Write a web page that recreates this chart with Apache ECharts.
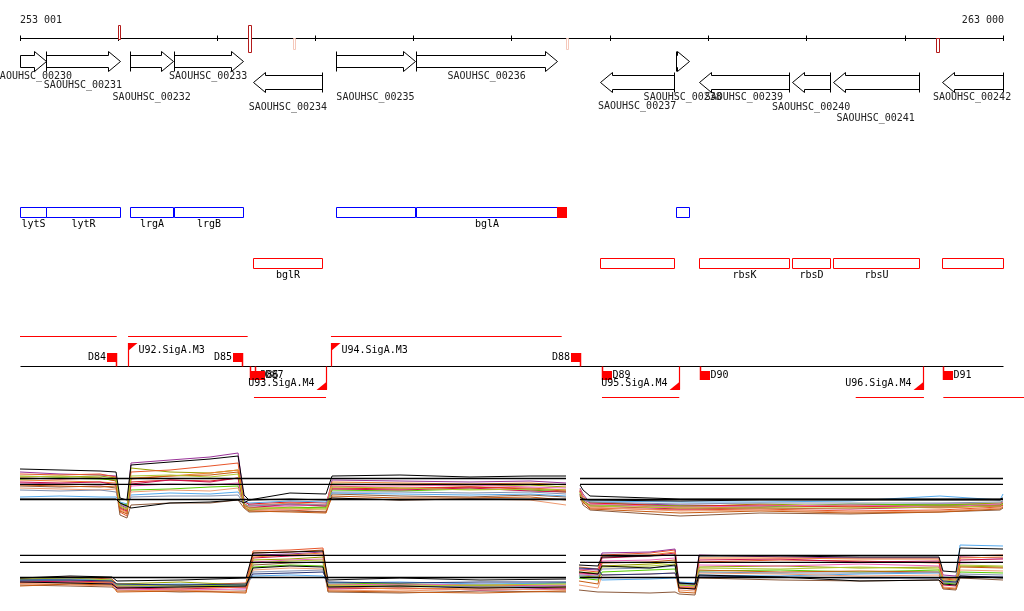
<!DOCTYPE html>
<html><head><meta charset="utf-8">
<script src="https://cdn.jsdelivr.net/npm/echarts@6/dist/echarts.min.js"></script>
<style>html,body{margin:0;padding:0;background:#fff}#c{width:1024px;height:611px}</style>
</head><body><div id="c"></div>
<script>
// ================= DATA =================
const rulerStart = 253001, rulerEnd = 263000;
const rulerTicks = [253001,254000,255000,256000,257000,258000,259000,260000,261000,262000,263000];
const rulerLabels = ['253 001','263 000'];
// [start, end, side, score]
const rulerMarks = [
  [254001,254021,'up',1],
  [255323,255358,'both',1],
  [255778,255798,'down',0.2],
  [258555,258575,'down',0.2],
  [262318,262348,'down',1]
];

const geneIds = ['SAOUHSC_00230','SAOUHSC_00231','SAOUHSC_00232','SAOUHSC_00233','SAOUHSC_00234','SAOUHSC_00235','SAOUHSC_00236','SAOUHSC_00237','SAOUHSC_00238','SAOUHSC_00239','SAOUHSC_00240','SAOUHSC_00241','SAOUHSC_00242'];
const geneStart = [253001,253265,254120,254565,255374,256217,257029,258901,259674,259906,260851,261266,262375];
const geneEnd   = [253265,254018,254562,255266,256078,257017,258467,259655,259811,260821,261245,262144,262995];
const geneStrand= ['+','+','+','+','-','+','+','-','+','-','-','-','-'];
const geneSymbol= ['lytS','lytR','lrgA','lrgB','bglR','','bglA','','','rbsK','rbsD','rbsU',''];
const extraFeatureStart = [258467], extraFeatureEnd = [258562];

const fwdTranscripts = [[253001,253985],[254100,255317],[256164,258511]];
const revTranscripts = [[255381,256114],[258921,259707],[261502,262196],[262393,263214]];
const fwdTermNames = ['D84','D85','D88'];
const fwdTermPos   = [253985,255266,258707];
const revTermNames = ['D86','D87','D89','D90','D91'];
const revTermPos   = [255341,255391,258924,259921,262393];
const fwdPromNames = ['U92.SigA.M3','U94.SigA.M3'];
const fwdPromPos   = [254103,256164];
const revPromNames = ['U93.SigA.M4','U95.SigA.M4','U96.SigA.M4'];
const revPromPos   = [256114,259707,262189];

// expression panel 1 (positions in bp; null = no data)
const exprTopPos = [253001,253408,253815,253978,254018,254089,254130,254527,254934,255219,255280,255330,255747,256114,256175,256866,257578,258189,258555,258620,258697,258728,258799,259715,260528,261444,262359,262970,263000];
const exprTopRefs = [4.15,3.57,2.05];
const exprTopValues = [
 [5.1,5.0,4.9,4.8, 2.2,2.0, 5.5,5.8,6.1,6.4, 2.5,2.0, 2.7,2.6, 4.4,4.5,4.3,4.4,4.4, null, 3.5,3.0, 2.4,2.1,2.1,2.1,2.1,2.1,2.2],
 [2.1,2.1,2.1,2.1, 1.7,1.4, 1.2,1.7,1.8,2.0, 1.7,2.0, 2.1,2.0, 2.2,2.0,2.1,2.1,2.1, null, 2.3,2.1, 2.0,1.9,2.0,2.0,2.0,2.0,2.1],
 [4.8,4.6,4.5,4.4, 1.5,1.2, 5.7,6.0,6.3,6.7, 2.0,1.5, 1.5,1.4, 4.0,3.9,3.8,3.9,3.7, null, 3.2,2.6, 1.7,1.5,1.4,1.5,1.6,1.6,1.7],
 [4.4,4.3,4.4,4.2, 1.3,1.0, 5.2,4.8,4.7,5.0, 1.7,1.2, 1.2,1.3, 3.6,3.5,3.4,3.5,3.3, null, 3.0,2.2, 1.8,1.3,1.6,1.4,1.5,1.7,1.8],
 [4.6,4.5,4.6,4.3, 0.8,0.4, 4.8,5.0,5.4,5.7, 1.5,1.0, 1.0,0.8, 3.4,3.2,3.3,3.2,3.0, null, 2.8,2.0, 1.2,1.0,1.1,0.9,1.0,1.3,1.5],
 [4.0,3.9,3.8,3.7, 1.1,0.8, 4.2,4.4,4.7,5.0, 1.6,1.4, 1.7,1.5, 3.8,3.7,3.6,3.7,3.5, null, 3.1,2.4, 1.6,1.2,1.3,1.4,1.2,1.4,1.6],
 [4.2,4.1,4.2,3.9, 1.6,1.4, 3.8,4.0,3.9,4.2, 1.8,1.6, 1.8,1.7, 3.2,3.1,3.3,3.1,2.9, null, 2.9,2.1, 1.7,1.4,1.5,1.3,1.4,1.5,1.7],
 [3.4,3.3,3.4,3.2, 0.5,0.2, 1.5,1.7,1.7,2.0, 1.2,0.8, 0.9,0.8, 2.6,2.4,2.3,2.5,2.3, null, 2.5,1.5, 1.0,0.4,0.7,0.6,0.8,1.0,1.2],
 [4.1,4.2,4.1,4.0, 1.7,1.5, 3.0,3.1,3.3,3.4, 1.4,1.0, 1.3,1.2, 3.0,2.9,3.1,3.0,2.8, null, 2.7,1.9, 1.5,1.4,1.3,1.6,1.5,1.5,1.7],
 [3.7,3.6,3.5,3.6, 1.4,1.1, 3.4,3.6,3.5,3.7, 1.7,1.3, 1.4,1.5, 3.4,3.4,3.5,3.3,3.2, null, 3.0,2.2, 1.6,1.3,1.4,1.5,1.3,1.6,1.8],
 [2.3,2.4,2.3,2.3, 1.8,1.6, 2.5,2.7,2.6,2.8, 1.9,1.7, 1.9,1.8, 2.7,2.6,2.5,2.6,2.4, null, 2.6,2.1, 1.9,1.8,1.8,1.9,2.4,2.0,2.6],
 [3.8,3.7,3.8,3.5, 1.2,0.9, 3.6,4.0,3.8,4.2, 1.5,1.2, 1.6,1.4, 3.1,3.0,3.2,2.9,2.8, null, 2.9,2.0, 1.4,1.1,1.2,1.1,1.3,1.4,1.5],
 [3.2,3.1,3.0,3.1, 1.0,0.7, 2.8,3.0,2.9,3.2, 1.4,1.1, 1.1,1.0, 2.2,2.0,2.1,2.0,1.5, null, 2.4,1.7, 1.3,0.9,1.0,0.8,0.9,1.2,1.4],
 [3.0,2.9,3.0,2.8, 1.6,1.3, 2.3,2.4,2.4,2.5, 1.6,1.4, 1.6,1.5, 2.8,2.8,2.7,2.8,2.6, null, 2.6,2.0, 1.8,1.6,1.7,1.7,1.7,1.8,1.9],
 [3.5,3.4,3.3,3.4, 0.9,0.6, 4.1,4.4,4.5,4.8, 1.3,0.9, 0.8,0.7, 2.4,2.2,2.2,2.3,2.0, null, 2.6,1.8, 1.1,0.7,0.9,0.7,0.8,1.1,1.3],
 [4.3,4.4,4.2,4.1, 1.4,1.1, 4.4,4.5,4.3,4.6, 1.6,1.2, 1.2,1.1, 3.3,3.2,3.0,3.1,3.0, null, 2.8,1.9, 1.4,1.2,1.2,1.2,1.3,1.4,1.6]
];

// expression panel 2
const exprBottomPos = [253001,253510,253937, 253988,254629,255300, 255371,255747,256083, 256134,256866,257680,258555, 258620, 258687,258880, 258921,259409,259664, 259704,259867, 259908,260732,261545,262349, 262390,262522, 262563,263000];
const exprBottomRefs = [4.47,3.77,2.25];
const exprBottomValues = [
 [2.2,2.4,2.3, 1.9,2.0,2.2, 4.7,4.8,4.9, 2.0,2.2,2.0,2.1, null, 3.5,3.4, 4.3,4.4,4.5, 1.7,1.6, 4.4,4.4,4.3,4.3, 2.9,2.8, 5.2,5.1],
 [1.8,1.7,1.6, 1.2,1.3,1.4, 3.2,3.4,3.3, 1.3,1.4,1.2,1.3, null, 2.8,2.6, 3.4,3.2,3.5, 1.2,1.1, 2.5,2.3,1.9,2.0, 1.6,1.5, 2.4,2.2],
 [2.2,2.3,2.1, 1.6,1.5,1.7, 4.9,5.0,5.2, 1.5,1.6,1.4,1.5, null, 3.0,2.8, 4.5,4.7,5.0, 1.3,1.2, 3.8,4.0,3.9,3.7, 2.1,2.0, 4.4,4.5],
 [1.5,1.4,1.3, 1.0,0.8,0.9, 3.5,3.7,3.8, 0.8,0.7,0.9,0.8, null, 1.0,0.8, 0.8,0.7,0.8, 0.6,0.5, 2.2,2.0,1.9,2.0, 1.1,1.0, 2.2,2.0],
 [2.0,1.9,2.0, 1.4,1.5,1.4, 3.3,3.5,3.4, 1.7,1.6,1.5,1.7, null, 2.2,2.0, 2.8,3.0,3.1, 1.6,1.4, 2.9,3.0,2.8,3.0, 1.7,1.6, 2.8,2.7],
 [2.1,2.0,1.8, 1.6,1.8,1.5, 4.0,4.1,4.3, 1.4,1.3,1.4,1.2, null, 2.4,2.3, 3.4,3.6,3.8, 1.5,1.4, 3.3,3.4,3.2,3.3, 1.8,1.7, 3.4,3.3],
 [1.9,1.8,1.7, 1.3,1.4,1.2, 4.5,4.6,4.8, 1.2,1.4,1.3,1.1, null, 3.1,3.0, 4.7,4.8,5.1, 1.7,1.6, 4.5,4.3,4.2,4.2, 2.5,2.4, 4.3,4.2],
 [1.7,1.8,1.6, 1.1,1.0,1.1, 3.8,4.0,4.1, 1.6,1.5,1.6,1.4, null, 2.6,2.5, 3.9,4.0,4.2, 1.4,1.3, 3.5,3.4,3.6,3.4, 2.0,1.9, 3.7,3.8],
 [2.0,2.1,2.0, 1.5,1.6,1.5, 2.4,2.5,2.4, 1.7,1.8,1.6,1.7, null, 2.3,2.2, 2.0,2.1,2.2, 1.8,1.7, 2.5,2.4,2.6,2.7, 2.3,2.2, 5.5,5.4],
 [1.8,1.9,1.8, 1.2,1.1,1.3, 4.2,4.4,4.5, 1.1,1.2,1.0,1.1, null, 2.7,2.6, 4.2,4.4,4.7, 1.2,1.1, 4.0,4.1,3.8,3.9, 1.5,1.4, 4.0,4.1],
 [1.6,1.5,1.4, 0.9,1.0,0.8, 3.0,3.2,3.1, 1.0,0.9,1.1,1.0, null, 1.5,1.2, 2.5,2.6,2.7, 1.0,0.9, 2.7,2.6,2.4,2.5, 1.3,1.2, 3.0,2.9],
 [1.4,1.6,1.5, 0.8,0.9,0.7, 4.7,4.8,5.0, 0.9,0.8,0.7,0.9, null, 1.9,1.6, 3.7,3.8,4.0, 0.8,0.7, 3.0,2.8,2.9,2.8, 1.2,1.1, 3.3,3.2],
 [1.9,2.0,1.9, 1.4,1.3,1.4, 2.8,2.9,3.0, 1.3,1.4,1.3,1.4, null, 2.5,2.4, 3.1,3.2,3.4, 1.6,1.5, 2.8,2.7,2.7,2.8, 1.8,1.7, 2.6,2.5],
 [2.1,2.2,2.0, 1.5,1.4,1.6, 3.7,3.9,4.0, 1.5,1.4,1.5,1.6, null, 2.8,2.7, 3.3,3.4,3.6, 1.5,1.4, 3.2,3.1,3.3,3.1, 2.0,1.9, 3.5,3.4],
 [1.7,1.7,1.8, 1.3,1.2,1.3, 4.3,4.5,4.7, 1.3,1.1,1.2,1.3, null, 3.3,3.1, 4.4,4.5,4.8, 1.3,1.2, 4.2,4.2,4.1,4.1, 2.2,2.1, 4.2,4.3],
 [2.0,2.0,1.9, 1.6,1.5,1.6, 2.6,2.7,2.8, 1.8,1.7,1.8,1.8, null, 3.2,3.1, 2.5,2.6,2.7, 1.7,1.6, 2.4,2.3,2.2,2.2, 1.9,1.8, 2.4,2.3]
];
const exprGapStart = 258555, exprGapEnd = 258697;

// ================= STYLE / LAYOUT =================
const FONT = '10px "DejaVu Sans Mono", "Liberation Mono", monospace';
const topColors = ['#000000','#000000','#993399','#99a000','#e8552a','#f08030','#e02020','#8b5a3c','#55cc00','#ee66bb','#55aaee','#cc1050','#ee9a70','#8090b0','#c85a10','#b0c830'];
const bottomColors = ['#000000','#000000','#e8552a','#8b5a3c','#55cc00','#99a000','#993399','#ee66bb','#55aaee','#cc1050','#ee9a70','#c85a10','#8090b0','#b0c830','#f08030','#223377'];
const geneLabelY = [76,85,97,76,107,97,76,106,97,97,107,118,97];
const L = {rulerY:38.5, fwdCy:61.5, revCy:82.5, fwdBoxY:207.5, revBoxY:258.5, boxH:10,
           fwdBoxLabelY:224.5, revBoxLabelY:275.5, baseY:366.5, fwdTxY:336.5, revTxY:397.5};

function X(api, v){ return api.coord([v, 0])[0]; }
function cx(v){ return Math.round(v) + 0.5; }
function txt(x, y, s, align, color){
  return {type:'text', style:{x:x, y:y, text:s, font:FONT, fill:color||'#000',
    align:align, verticalAlign:'middle', textAlign:align, textVerticalAlign:'middle'}};
}
function ln(x1,y1,x2,y2,color,w){ return {type:'line', shape:{x1,y1,x2,y2}, style:{stroke:color, lineWidth:w||1}}; }

const RED = '#ff0000', BLUE = '#0000ff';

function custom(name, data, render, z){
  return {type:'custom', name, xAxisIndex:0, yAxisIndex:0, data, renderItem:render, silent:true, clip:false, z:z||5, animation:false};
}

const series = [];

// ruler
series.push(custom('ruler', [[rulerStart, rulerEnd]], function(params, api){
  const x0 = cx(X(api, rulerStart)), x1 = cx(X(api, rulerEnd));
  const kids = [ln(x0, L.rulerY, x1, L.rulerY, '#000', 1)];
  rulerTicks.forEach(t => { const x = cx(X(api, t)); kids.push(ln(x, L.rulerY-3, x, L.rulerY+2.5, '#000', 1)); });
  kids.push(txt(X(api, rulerStart), 20, rulerLabels[0], 'left', '#222'));
  kids.push(txt(X(api, rulerEnd)+1, 20, rulerLabels[1], 'right', '#222'));
  rulerMarks.forEach(m => {
    const a = X(api, m[0]), b = X(api, m[1]);
    let y0, y1;
    if (m[2] === 'up') { y0 = 25; y1 = 39; }
    else if (m[2] === 'both') { y0 = 25; y1 = 52; }
    else { y0 = 38; y1 = m[3] >= 0.5 ? 52 : 49; }
    const col = m[3] >= 0.5 ? '#b31b1b' : '#f5c8bb';
    kids.push({type:'rect', shape:{x:cx(a), y:y0+0.5, width:Math.max(2, Math.round(b-a)), height:y1-y0},
               style:{fill:'#fff', stroke:col, lineWidth:1}});
  });
  return {type:'group', children:kids};
}));

// gene arrows
series.push(custom('genes', geneIds.map((g,i)=>[geneStart[i], geneEnd[i], i]), function(params, api){
  const i = api.value(2);
  const s = geneStart[i], e = geneEnd[i];
  const x0 = cx(X(api, s)), x1 = cx(X(api, e));
  const HL = 12, kids = [];
  if (geneStrand[i] === '+') {
    const cy = L.fwdCy, sh = 6, hh = 10, hx = Math.max(x0, x1 - HL);
    kids.push({type:'polygon', shape:{points:[[x0,cy-sh],[hx,cy-sh],[hx,cy-hh],[x1,cy],[hx,cy+hh],[hx,cy+sh],[x0,cy+sh]]},
               style:{fill:'#fff', stroke:'#000', lineWidth:1}});
    if (s > rulerStart) kids.push(ln(x0, cy-hh, x0, cy+hh, '#000', 1));
  } else {
    const cy = L.revCy, sh = 7, hh = 10, hx = Math.min(x1, x0 + HL);
    kids.push({type:'polygon', shape:{points:[[x1,cy-sh],[hx,cy-sh],[hx,cy-hh],[x0,cy],[hx,cy+hh],[hx,cy+sh],[x1,cy+sh]]},
               style:{fill:'#fff', stroke:'#000', lineWidth:1}});
    if (e < rulerEnd) kids.push(ln(x1, cy-hh, x1, cy+hh, '#000', 1));
  }
  kids.push(txt((X(api,s)+X(api,e))/2, geneLabelY[i], geneIds[i], 'center', '#222'));
  return {type:'group', children:kids};
}));

// gene symbol boxes
series.push(custom('geneBoxes', geneIds.map((g,i)=>[geneStart[i], geneEnd[i], i]), function(params, api){
  const i = api.value(2);
  const a = cx(X(api, geneStart[i])), b = cx(X(api, geneEnd[i]));
  const fwd = geneStrand[i] === '+';
  const y = fwd ? L.fwdBoxY : L.revBoxY;
  const kids = [{type:'rect', shape:{x:a, y:y, width:b-a, height:L.boxH}, style:{fill:'#fff', stroke: fwd ? BLUE : RED, lineWidth:1}}];
  if (geneSymbol[i]) kids.push(txt((a+b)/2, fwd ? L.fwdBoxLabelY : L.revBoxLabelY, geneSymbol[i], 'center', '#000'));
  return {type:'group', children:kids};
}));
series.push(custom('extraFeature', extraFeatureStart.map((s,i)=>[s, extraFeatureEnd[i], i]), function(params, api){
  const i = api.value(2);
  const a = Math.round(X(api, extraFeatureStart[i])), b = Math.round(X(api, extraFeatureEnd[i]));
  return {type:'rect', shape:{x:a, y:L.fwdBoxY-0.5, width:b-a, height:L.boxH+1}, style:{fill:RED}};
}, 6));

// transcripts + baseline
series.push(custom('transcripts', [[rulerStart, rulerEnd]], function(params, api){
  const kids = [ln(cx(X(api,rulerStart)), L.baseY, cx(X(api,rulerEnd)), L.baseY, '#000', 1)];
  fwdTranscripts.forEach(t => kids.push(ln(X(api,t[0]), L.fwdTxY, X(api,t[1]), L.fwdTxY, RED, 1)));
  revTranscripts.forEach(t => kids.push(ln(X(api,t[0]), L.revTxY, X(api,t[1]), L.revTxY, RED, 1)));
  return {type:'group', children:kids};
}));

// forward terminators
series.push(custom('fwdTerm', fwdTermPos.map((p,i)=>[p, i]), function(params, api){
  const i = api.value(1), x = Math.round(X(api, fwdTermPos[i]));
  return {type:'group', children:[
    {type:'rect', shape:{x:x-10, y:353, width:10, height:9}, style:{fill:RED}},
    ln(x-0.5, 353, x-0.5, L.baseY, RED, 1.5),
    txt(x-11, 357.5, fwdTermNames[i], 'right', '#000')
  ]};
}));
// reverse terminators
series.push(custom('revTerm', revTermPos.map((p,i)=>[p, i]), function(params, api){
  const i = api.value(1), x = Math.round(X(api, revTermPos[i]));
  return {type:'group', children:[
    {type:'rect', shape:{x:x, y:371, width:10, height:9}, style:{fill:RED}},
    ln(x+0.5, L.baseY, x+0.5, 380, RED, 1.5),
    txt(x+10.5, 375.5, revTermNames[i], 'left', '#000')
  ]};
}));
// forward promoters
series.push(custom('fwdProm', fwdPromPos.map((p,i)=>[p, i]), function(params, api){
  const i = api.value(1), x = cx(X(api, fwdPromPos[i]));
  return {type:'group', children:[
    ln(x, 343, x, L.baseY, RED, 1.2),
    {type:'polygon', shape:{points:[[x-0.5,343],[x+9,343],[x-0.5,351]]}, style:{fill:RED}},
    txt(x+10, 350.5, fwdPromNames[i], 'left', '#000')
  ]};
}));
// reverse promoters
series.push(custom('revProm', revPromPos.map((p,i)=>[p, i]), function(params, api){
  const i = api.value(1), x = cx(X(api, revPromPos[i]));
  return {type:'group', children:[
    ln(x, L.baseY, x, 389.5, RED, 1.2),
    {type:'polygon', shape:{points:[[x+0.5,381.5],[x+0.5,390],[x-10,390]]}, style:{fill:RED}},
    txt(x-12, 383.5, revPromNames[i], 'right', '#000')
  ]};
}));

// expression lines
function addPanel(pos, values, refs, colors, axisIdx){
  values.forEach((vals, k) => {
    const black = colors[k] === '#000000';
    series.push({type:'line', name:'panel'+axisIdx+'_s'+(k+1), xAxisIndex:axisIdx, yAxisIndex:axisIdx,
      data: pos.map((p,j)=>[p, vals[j] == null ? '-' : vals[j]]),
      showSymbol:false, symbol:'none', connectNulls:false, silent:true, animation:false,
      lineStyle:{width:1, color:colors[k]}, itemStyle:{color:colors[k]}, z: black ? 4 : 3});
  });
  refs.forEach((r, k) => {
    series.push({type:'line', name:'ref'+axisIdx+'_'+k, xAxisIndex:axisIdx, yAxisIndex:axisIdx,
      data:[[rulerStart, r],[exprGapStart, r],[(exprGapStart+exprGapEnd)/2,'-'],[exprGapEnd, r],[rulerEnd, r]],
      showSymbol:false, symbol:'none', connectNulls:false, silent:true, animation:false,
      lineStyle:{width:1.3, color:'#000'}, z:5});
  });
}
addPanel(exprTopPos, exprTopValues, exprTopRefs, topColors, 1);
addPanel(exprBottomPos, exprBottomValues, exprBottomRefs, bottomColors, 2);

const chart = echarts.init(document.getElementById('c'), null, {renderer:'canvas'});
chart.setOption({
  animation:false,
  backgroundColor:'#fff',
  grid:[
    {left:20, right:21, top:0, height:611},
    {left:20, right:21, top:440, height:80},
    {left:20, right:21, top:520, height:80}
  ],
  xAxis:[0,1,2].map(g => ({type:'value', gridIndex:g, min:rulerStart, max:rulerEnd, show:false})),
  yAxis:[
    {type:'value', gridIndex:0, min:0, max:611, inverse:true, show:false},
    {type:'value', gridIndex:1, min:0, max:8, show:false},
    {type:'value', gridIndex:2, min:0, max:8, show:false}
  ],
  series: series
});
</script>
</body></html>
